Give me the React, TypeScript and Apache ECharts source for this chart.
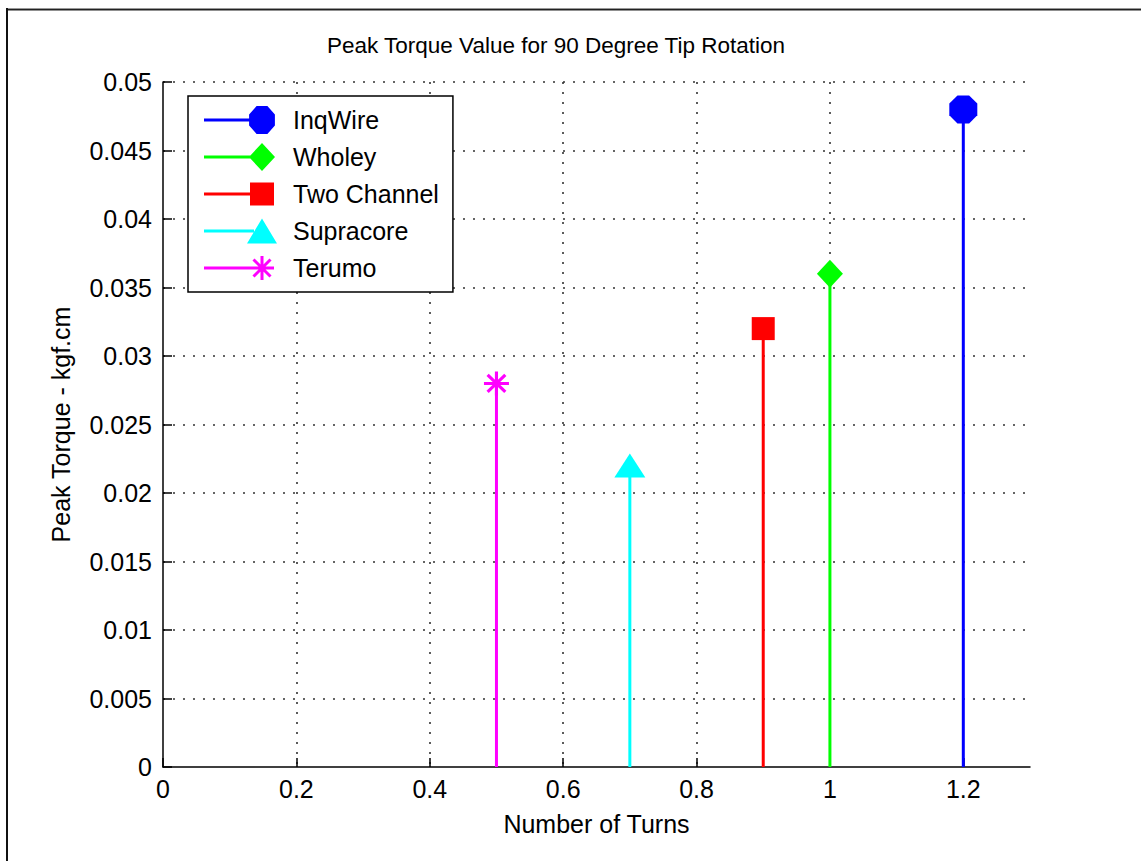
import React, { useEffect, useRef } from "react";
import * as echarts from "echarts";

const seriesNames = ["InqWire", "Wholey", "Two Channel", "Supracore", "Terumo"];
const turns = [1.2, 1.0, 0.9, 0.7, 0.5];
const peakTorque = [0.048, 0.036, 0.032, 0.022, 0.028];
const colors = ["#0000ff", "#00ff00", "#ff0000", "#00ffff", "#ff00ff"];
const xTicks = [0, 0.2, 0.4, 0.6, 0.8, 1, 1.2];
const chartTitle = "Peak Torque Value for 90 Degree Tip Rotation";
const xName = "Number of Turns";
const yName = "Peak Torque - kgf.cm";

const FONT = "'Liberation Sans', Arial, sans-serif";

// markers drawn on the stems
const octagon = "path://M8 1 L18 1 L25 8 L25 18 L18 25 L8 25 L1 18 L1 8 Z";
const asterisk =
  "path://M0 10.5 L24 10.5 L24 13.5 L0 13.5 Z M10.5 0 L13.5 0 L13.5 24 L10.5 24 Z M2.44 4.56 L4.56 2.44 L21.56 19.44 L19.44 21.56 Z M19.44 2.44 L21.56 4.56 L4.56 21.56 L2.44 19.44 Z";
const markerSymbols = [octagon, "diamond", "rect", "triangle", asterisk];
const markerSizes: any[] = [[28, 28], [26, 28], [23, 23], [31, 24], [25, 24]];

// legend icons: line + marker, common bbox 0..84 x 0..28
const bbox = "M0 0 L0.01 0 L0 0.01 Z M84 28 L83.99 28 L84 27.99 Z ";
const stemLine = "M0 12.5 L50 12.5 L50 15.5 L0 15.5 Z ";
const legendIcons = [
  "path://" + bbox + stemLine +
    "M52.6 0 L63.4 0 L70.9 8.6 L70.9 19.4 L63.4 28 L52.6 28 L45.1 19.4 L45.1 8.6 Z",
  "path://" + bbox + stemLine + "M58 0 L71 14 L58 28 L45 14 Z",
  "path://" + bbox + stemLine + "M46 2.5 L70 2.5 L70 25.5 L46 25.5 Z",
  "path://" + bbox + stemLine + "M58 1.5 L73 26.5 L43 26.5 Z",
  "path://" + bbox + stemLine +
    "M46 12.5 L70 12.5 L70 15.5 L46 15.5 Z M56.5 2 L59.5 2 L59.5 26 L56.5 26 Z M48.44 6.56 L50.56 4.44 L67.56 21.44 L65.44 23.56 Z M65.44 4.44 L67.56 6.56 L50.56 23.56 L48.44 21.44 Z",
];

export default function App() {
  const ref = useRef<HTMLDivElement>(null);
  useEffect(() => {
    document.body.style.margin = "0";
    if (!ref.current) return;
    const chart = echarts.init(ref.current, undefined, { renderer: "svg" });
    const series = seriesNames.map((name, i) => ({
      name,
      type: "line",
      data: [
        { value: [turns[i], 0], symbol: "none" },
        { value: [turns[i], peakTorque[i]], symbol: markerSymbols[i], symbolSize: markerSizes[i] },
      ],
      showSymbol: true,
      color: colors[i],
      lineStyle: { color: colors[i], width: 3 },
      itemStyle: { color: colors[i], borderWidth: 0, opacity: 1 },
      emphasis: { disabled: true },
      z: 3,
    }));
    chart.setOption({
      animation: false,
      backgroundColor: "#fff",
      textStyle: { fontFamily: FONT },
      title: {
        text: chartTitle,
        left: 551,
        top: 29,
        textAlign: "center",
        textStyle: { fontSize: 22.5, fontWeight: "normal", color: "#000", fontFamily: FONT },
      },
      grid: { left: 163, right: 111, top: 82, bottom: 94, containLabel: false },
      legend: {
        orient: "vertical",
        left: 188,
        top: 96,
        padding: [10, 14, 10, 16],
        itemWidth: 84,
        itemHeight: 28,
        itemGap: 9,
        borderColor: "#000",
        borderWidth: 1.5,
        backgroundColor: "#fff",
        selectedMode: false,
        textStyle: { fontSize: 25, color: "#000", fontFamily: FONT, padding: [0, 0, 0, 0] },
        data: seriesNames.map((name, i) => ({
          name,
          icon: legendIcons[i],
          itemStyle: { color: colors[i], borderWidth: 0 },
        })),
      },
      xAxis: {
        type: "value",
        min: 0,
        max: 1.3,
        interval: 0.2,
        name: xName,
        nameLocation: "middle",
        nameGap: 44,
        nameTextStyle: { fontSize: 25, color: "#000", fontFamily: FONT },
        axisLine: { show: true, lineStyle: { color: "#000", width: 1.5 } },
        axisTick: { show: true, inside: true, length: 9, customValues: xTicks, lineStyle: { color: "#000", width: 1.5 } },
        axisLabel: {
          customValues: xTicks,
          fontSize: 25,
          color: "#000",
          margin: 9,
          fontFamily: FONT,
          formatter: (v: number) => String(+v.toFixed(2)),
        },
        splitLine: {
          show: true,
          showMinLine: false,
          showMaxLine: false,
          lineStyle: { color: "#333", width: 1.6, type: [2, 8] },
        },
      },
      yAxis: {
        type: "value",
        min: 0,
        max: 0.05,
        interval: 0.005,
        name: yName,
        nameLocation: "middle",
        nameGap: 90,
        nameTextStyle: { fontSize: 25, color: "#000", fontFamily: FONT },
        axisLine: { show: true, lineStyle: { color: "#000", width: 1.5 } },
        axisTick: { show: true, inside: true, length: 9, lineStyle: { color: "#000", width: 1.5 } },
        axisLabel: {
          fontSize: 25,
          color: "#000",
          margin: 11,
          fontFamily: FONT,
          formatter: (v: number) => String(+v.toFixed(3)),
        },
        splitLine: {
          show: true,
          showMinLine: false,
          lineStyle: { color: "#333", width: 1.6, type: [2, 8] },
        },
      },
      graphic: [
        { type: "rect", shape: { x: 7, y: 8, width: 1134, height: 1 }, style: { fill: "#999" }, silent: true },
        { type: "rect", shape: { x: 7, y: 9, width: 1134, height: 1.5 }, style: { fill: "#222" }, silent: true },
        { type: "rect", shape: { x: 6, y: 8, width: 2, height: 853 }, style: { fill: "#111" }, silent: true },
      ],
      series,
    });
    return () => chart.dispose();
  }, []);
  return <div ref={ref} style={{ width: 1141, height: 861 }} />;
}
